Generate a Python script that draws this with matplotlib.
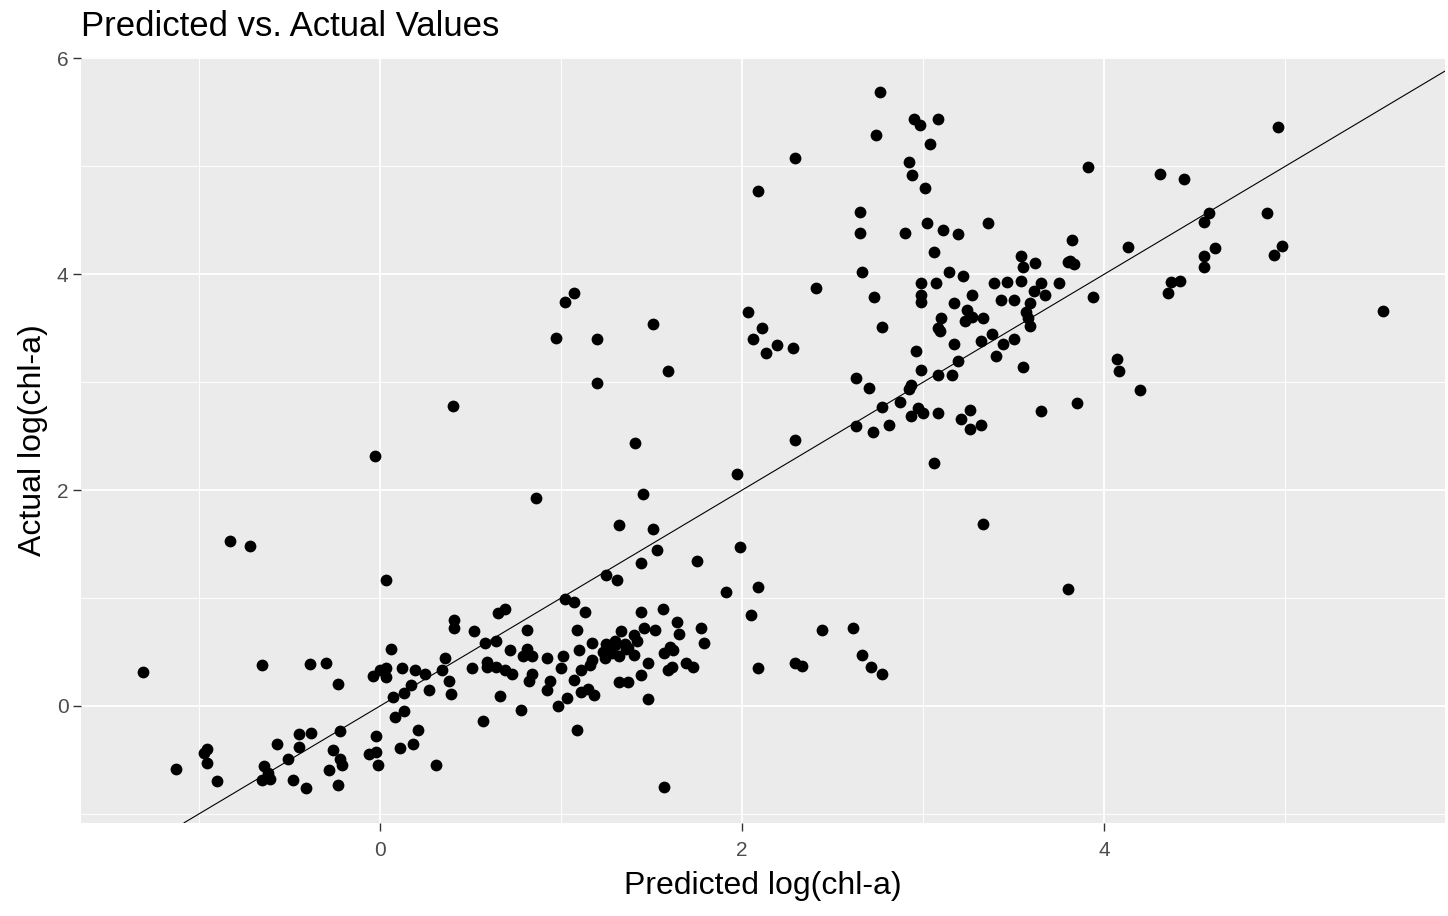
import matplotlib.pyplot as plt
import numpy as np

plt.rcParams['font.family'] = ['Liberation Sans', 'DejaVu Sans']

# predicted vs actual log(chl-a)
pred_low = [-1.31, -1.13, -0.955, -0.975, -0.955, -0.90, -0.83, -0.72, 0.03, 0.06,
            -0.65, -0.39, -0.30, -0.23, -0.04, 0.00, 0.03, 0.03, 0.12, 0.07,
            0.13, 0.08, 0.13, 0.11, -0.02, -0.06, -0.02, -0.01, -0.22, -0.26,
            -0.22, -0.21, -0.28, -0.23, -0.38, -0.45, -0.45, -0.57, -0.51, -0.48,
            -0.41, -0.64, -0.62, -0.65, -0.61]
act_low = [0.31, -0.58, -0.40, -0.44, -0.53, -0.70, 1.53, 1.48, 1.17, 0.53,
           0.38, 0.39, 0.40, 0.20, 0.28, 0.33, 0.35, 0.27, 0.35, 0.08,
           0.12, -0.10, -0.05, -0.39, -0.28, -0.45, -0.43, -0.55, -0.23, -0.41,
           -0.49, -0.55, -0.59, -0.73, -0.25, -0.26, -0.38, -0.35, -0.49, -0.69,
           -0.76, -0.56, -0.62, -0.69, -0.68]

pred_mid = [1.44, 1.75, 1.25, 1.31, 1.02, 1.07, 1.13, 1.44, 1.56, 1.64,
            1.77, 1.79, 1.65, 1.52, 1.46, 1.33, 1.40, 1.42, 1.17, 1.10,
            1.09, 1.25, 1.30, 1.35, 1.37, 1.23, 1.28, 1.32, 1.40, 1.24,
            1.17, 1.16, 1.11, 1.07, 1.11, 1.15, 1.18, 1.32, 1.37, 1.44,
            1.48, 1.48, 1.57, 1.60, 1.62, 1.59, 1.61, 1.69, 1.73, 1.57,
            1.09, 1.03, 0.98, 1.00, 1.01, 0.92, 0.94, 0.92, 0.84, 0.82,
            0.81, 0.79, 0.84, 0.81, 0.78, 0.72, 0.73, 0.69, 0.64, 0.59,
            0.59, 0.51, 0.66, 0.57, 0.52, 0.58, 0.64, 0.65, 0.69, 0.41,
            0.41, 0.36, 0.34, 0.38, 0.39, 0.27, 0.25, 0.19, 0.17, 0.21,
            0.18, 0.31, 1.36, 1.30]
act_mid = [1.32, 1.34, 1.21, 1.17, 0.99, 0.96, 0.87, 0.87, 0.90, 0.78,
           0.72, 0.58, 0.67, 0.70, 0.72, 0.69, 0.66, 0.60, 0.58, 0.52,
           0.70, 0.57, 0.56, 0.57, 0.54, 0.50, 0.49, 0.46, 0.47, 0.44,
           0.43, 0.38, 0.33, 0.24, 0.13, 0.16, 0.10, 0.22, 0.22, 0.29,
           0.40, 0.06, 0.49, 0.55, 0.52, 0.33, 0.36, 0.40, 0.36, -0.75,
           -0.22, 0.07, 0.00, 0.35, 0.46, 0.44, 0.23, 0.15, 0.30, 0.23,
           0.53, 0.46, 0.46, 0.70, -0.04, 0.52, 0.30, 0.33, 0.36, 0.41,
           0.36, 0.35, 0.09, -0.14, 0.69, 0.58, 0.60, 0.86, 0.90, 0.80,
           0.72, 0.44, 0.33, 0.23, 0.11, 0.15, 0.30, 0.33, 0.19, -0.22,
           -0.35, -0.55, 0.53, 0.60]

pred_spread = [2.29, 1.97, 1.99, 1.91, 2.09, 2.05, 2.09, 2.29, 2.33, 2.44,
               2.61, 2.66, 2.71, 2.77, 2.63, 2.72, 2.81, 2.77, 2.87, 2.93,
               2.97, 1.07, 1.02, 0.97, 1.20, 1.51, 1.59, 1.20, 0.40, -0.03,
               1.41, 0.86, 1.45, 1.32, 1.51, 1.53]
act_spread = [2.46, 2.15, 1.47, 1.06, 1.10, 0.84, 0.35, 0.40, 0.37, 0.70,
              0.72, 0.47, 0.36, 0.30, 2.59, 2.54, 2.60, 2.77, 2.82, 2.69,
              2.76, 3.83, 3.74, 3.41, 3.40, 3.54, 3.10, 2.99, 2.78, 2.32,
              2.44, 1.93, 1.96, 1.68, 1.64, 1.44]

pred_high = [2.76, 2.95, 2.98, 3.08, 2.74, 3.04, 2.29, 2.92, 2.94, 3.01,
             2.09, 2.65, 2.65, 2.90, 3.02, 3.11, 3.19, 3.36, 3.06, 2.66,
             3.14, 3.22, 2.99, 3.07, 3.39, 3.46, 2.41, 2.73, 2.99, 2.99,
             3.17, 3.27, 3.43, 3.24, 3.27, 3.23, 3.33, 3.10, 3.08, 3.09,
             2.03, 2.11, 2.06, 2.77, 3.38, 3.54, 3.54, 3.55, 3.62, 3.65,
             3.75, 3.82, 3.81, 3.83, 3.94, 3.50, 3.61, 3.67, 3.59, 3.57,
             3.58, 3.59, 3.50, 3.44, 3.32, 3.40, 3.55, 3.17, 3.19, 2.96,
             2.99, 3.08, 3.16, 2.63, 2.70, 2.93, 2.92, 3.00, 3.08, 3.21,
             3.26, 3.26, 3.32, 3.65, 3.85]
act_high = [5.69, 5.44, 5.38, 5.44, 5.29, 5.21, 5.08, 5.04, 4.92, 4.80,
            4.77, 4.58, 4.38, 4.38, 4.47, 4.41, 4.37, 4.47, 4.21, 4.02,
            4.02, 3.98, 3.92, 3.92, 3.92, 3.93, 3.87, 3.79, 3.81, 3.74,
            3.73, 3.81, 3.76, 3.67, 3.60, 3.57, 3.59, 3.59, 3.50, 3.47,
            3.65, 3.50, 3.40, 3.51, 3.45, 3.94, 4.17, 4.07, 4.10, 3.92,
            3.92, 4.32, 4.12, 4.09, 3.79, 3.76, 3.84, 3.81, 3.73, 3.65,
            3.59, 3.52, 3.40, 3.35, 3.38, 3.24, 3.14, 3.35, 3.20, 3.29,
            3.11, 3.07, 3.07, 3.04, 2.95, 2.97, 2.94, 2.71, 2.71, 2.66,
            2.74, 2.57, 2.60, 2.73, 2.81]

pred_top = [3.91, 4.31, 4.44, 4.58, 4.55, 4.90, 4.13, 4.61, 4.55, 4.55,
            4.98, 4.94, 3.80, 4.37, 4.42, 4.35, 5.54, 4.07, 4.08, 4.20,
            4.96, 3.06, 3.33, 3.80, 2.13, 2.19, 2.28]
act_top = [4.99, 4.93, 4.88, 4.57, 4.48, 4.57, 4.25, 4.24, 4.17, 4.07,
           4.26, 4.18, 4.11, 3.93, 3.94, 3.83, 3.66, 3.21, 3.10, 2.93,
           5.36, 2.25, 1.69, 1.08, 3.27, 3.34, 3.32]

predicted = np.array(pred_low + pred_mid + pred_spread + pred_high + pred_top)
actual = np.array(act_low + act_mid + act_spread + act_high + act_top)

fig = plt.figure(figsize=(14.48, 9.16), dpi=100)
ax = fig.add_axes([0.0559, 0.1018, 0.9421, 0.8360])
ax.set_facecolor('#EBEBEB')

# ggplot-like 5% padding around the data
def padded(v):
    r = v.max() - v.min()
    return v.min() - 0.05 * r, v.max() + 0.05 * r

xlim = padded(predicted)
ylim = padded(actual)

ax.set_xticks([-1, 1, 3, 5], minor=True)
ax.set_yticks([-1, 1, 3, 5], minor=True)
ax.set_xticks([0, 2, 4])
ax.set_yticks([0, 2, 4, 6])
ax.grid(which='major', color='white', linewidth=1.3)
ax.grid(which='minor', color='white', linewidth=0.65)
ax.set_axisbelow(True)
for s in ax.spines.values():
    s.set_visible(False)

ax.scatter(predicted, actual, s=72, color='black', linewidths=0, zorder=3)
ax.axline((0, 0), slope=1, color='black', linewidth=0.8, zorder=2)

ax.set_xlim(xlim)
ax.set_ylim(ylim)

ax.tick_params(which='major', length=6, width=1.0, color='#333333',
               labelcolor='#4D4D4D', labelsize=15, pad=3)
ax.tick_params(axis='x', which='major', pad=7)
ax.tick_params(which='minor', length=0)

ax.set_xlabel('Predicted log(chl-a)', fontsize=23, labelpad=8)
ax.set_ylabel('Actual log(chl-a)', fontsize=23, labelpad=6)
ax.set_title('Predicted vs. Actual Values', fontsize=25, loc='left', pad=15)

fig.savefig('out.png', dpi=100)
